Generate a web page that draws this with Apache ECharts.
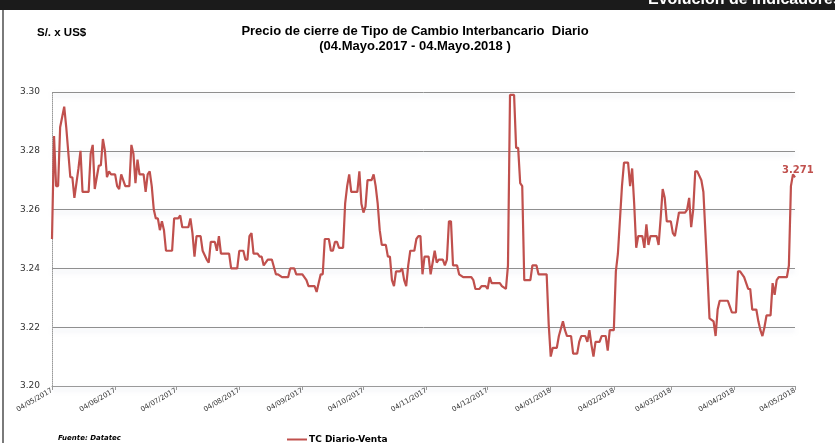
<!DOCTYPE html>
<html>
<head>
<meta charset="utf-8">
<title>Tipo de Cambio Interbancario</title>
<script src="https://cdn.jsdelivr.net/npm/echarts@6.0.0/dist/echarts.min.js"></script>
<style>
  html, body { margin: 0; padding: 0; background: #fff; }
  #chart { width: 835px; height: 443px; }
</style>
</head>
<body>
<div id="chart"></div>
<script>
// etiquetas del eje x (dia 04 de cada mes)
const tickLabels = [
  '04/05/2017', '04/06/2017', '04/07/2017', '04/08/2017', '04/09/2017', '04/10/2017',
  '04/11/2017', '04/12/2017', '04/01/2018', '04/02/2018', '04/03/2018', '04/04/2018', '04/05/2018'
]
const yTicks = [3.20, 3.22, 3.24, 3.26, 3.28, 3.30]

// dias desde el 04/05/2017 y tipo de cambio
const days = [
  0, 1, 2, 3, 4, 6, 7, 9, 10, 11, 13, 14, 15, 18, 19, 20, 21, 23, 24, 25,
  26, 27, 28, 29, 31, 32, 33, 34, 36, 38, 39, 40, 41, 42, 43, 45, 46, 47, 48, 49,
  50, 51, 52, 53, 54, 55, 56, 59, 60, 62, 63, 64, 67, 68, 69, 70, 71, 73, 74, 76,
  77, 78, 80, 81, 82, 83, 87, 88, 91, 92, 94, 95, 96, 97, 98, 99, 101, 102, 103, 104,
  106, 108, 110, 111, 113, 116, 117, 119, 120, 123, 125, 126, 129, 130, 131, 132, 133, 134, 136, 137,
  138, 139, 140, 141, 143, 144, 145, 146, 147, 150, 151, 152, 153, 154, 155, 157, 158, 159, 160, 161,
  162, 164, 165, 166, 167, 168, 169, 171, 172, 173, 174, 175, 176, 178, 179, 180, 181, 182, 183, 185,
  186, 187, 188, 189, 190, 192, 193, 194, 195, 196, 197, 199, 200, 202, 206, 207, 208, 210, 211, 213,
  214, 215, 216, 220, 221, 223, 224, 225, 227, 228, 229, 230, 231, 232, 235, 236, 238, 239, 243, 244,
  245, 246, 248, 249, 251, 252, 253, 255, 256, 258, 259, 260, 262, 263, 264, 265, 266, 267, 269, 270,
  272, 273, 274, 276, 277, 278, 280, 281, 283, 284, 285, 286, 287, 288, 290, 291, 292, 293, 294, 297,
  298, 299, 300, 301, 302, 304, 305, 306, 308, 311, 312, 313, 314, 315, 316, 317, 319, 320, 321, 322,
  323, 325, 326, 327, 328, 332, 333, 334, 336, 337, 338, 340, 342, 343, 344, 346, 347, 348, 349, 350,
  351, 353, 354, 355, 356, 357, 361, 362, 363, 364, 365
]
const values = [
  3.250, 3.285, 3.268, 3.268, 3.288, 3.295, 3.288, 3.271, 3.271, 3.264, 3.274, 3.280, 3.266, 3.266, 3.279, 3.282, 3.267, 3.275, 3.275, 3.284,
  3.280, 3.271, 3.273, 3.272, 3.272, 3.268, 3.267, 3.272, 3.268, 3.268, 3.282, 3.279, 3.269, 3.277, 3.272, 3.272, 3.266, 3.272, 3.273, 3.268,
  3.260, 3.257, 3.257, 3.253, 3.256, 3.253, 3.246, 3.246, 3.257, 3.257, 3.258, 3.254, 3.254, 3.257, 3.252, 3.244, 3.251, 3.251, 3.246, 3.243,
  3.242, 3.249, 3.249, 3.246, 3.251, 3.245, 3.245, 3.240, 3.240, 3.246, 3.246, 3.243, 3.243, 3.251, 3.252, 3.245, 3.245, 3.244, 3.244, 3.241,
  3.243, 3.243, 3.238, 3.238, 3.237, 3.237, 3.240, 3.240, 3.238, 3.238, 3.236, 3.234, 3.234, 3.232, 3.235, 3.238, 3.238, 3.250, 3.250, 3.246,
  3.246, 3.249, 3.249, 3.247, 3.247, 3.262, 3.268, 3.272, 3.266, 3.266, 3.273, 3.262, 3.259, 3.261, 3.270, 3.270, 3.272, 3.268, 3.262, 3.253,
  3.248, 3.248, 3.244, 3.244, 3.236, 3.234, 3.239, 3.239, 3.240, 3.236, 3.234, 3.241, 3.246, 3.246, 3.250, 3.251, 3.251, 3.238, 3.244, 3.244,
  3.238, 3.242, 3.246, 3.242, 3.243, 3.243, 3.241, 3.243, 3.256, 3.256, 3.241, 3.241, 3.238, 3.237, 3.237, 3.236, 3.233, 3.233, 3.234, 3.234,
  3.233, 3.237, 3.235, 3.235, 3.234, 3.233, 3.241, 3.299, 3.299, 3.281, 3.281, 3.269, 3.268, 3.236, 3.236, 3.241, 3.241, 3.238, 3.238, 3.221,
  3.210, 3.213, 3.213, 3.217, 3.222, 3.219, 3.217, 3.217, 3.211, 3.211, 3.215, 3.217, 3.217, 3.215, 3.219, 3.214, 3.210, 3.215, 3.215, 3.217,
  3.217, 3.212, 3.219, 3.219, 3.239, 3.245, 3.268, 3.276, 3.276, 3.268, 3.274, 3.262, 3.247, 3.251, 3.251, 3.247, 3.255, 3.248, 3.251, 3.251,
  3.248, 3.257, 3.267, 3.264, 3.256, 3.256, 3.252, 3.251, 3.259, 3.259, 3.260, 3.264, 3.254, 3.260, 3.273, 3.273, 3.270, 3.266, 3.252, 3.238,
  3.223, 3.222, 3.217, 3.226, 3.229, 3.229, 3.227, 3.225, 3.225, 3.239, 3.239, 3.237, 3.233, 3.233, 3.226, 3.226, 3.222, 3.219, 3.217, 3.220,
  3.224, 3.224, 3.235, 3.231, 3.236, 3.237, 3.237, 3.241, 3.268, 3.272, 3.271
]

// un dia por categoria entre el primer y el ultimo tick
const fechas = []
const start = Date.UTC(2017, 4, 4)
for (let i = 0; i <= 365; i++) {
  const dt = new Date(start + i * 86400000)
  const dd = String(dt.getUTCDate()).padStart(2, '0')
  const mm = String(dt.getUTCMonth() + 1).padStart(2, '0')
  fechas.push(dd + '/' + mm + '/' + dt.getUTCFullYear())
}

const isTick = (idx, val) => tickLabels.indexOf(val) !== -1

const lineColor = '#C0504D'
const seriesData = days.map((d, i) => [d, values[i]])

const chart = echarts.init(document.getElementById('chart'))
const option = {
  backgroundColor: '#fff',
  animation: false,
  title: {
    text: 'Precio de cierre de Tipo de Cambio Interbancario  Diario',
    subtext: '(04.Mayo.2017 - 04.Mayo.2018 )',
    left: 410,
    top: 20,
    textAlign: 'center',
    itemGap: 2,
    textStyle: { fontFamily: 'Liberation Sans', fontWeight: 'bold', fontSize: 13, color: '#000' },
    subtextStyle: { fontFamily: 'Liberation Sans', fontWeight: 'bold', fontSize: 13, color: '#000' }
  },
  legend: {
    left: 282,
    top: 430,
    icon: 'rect',
    itemWidth: 20,
    itemHeight: 2,
    itemGap: 2,
    textStyle: { fontFamily: 'DejaVu Sans', fontWeight: 'bold', fontSize: 9, color: '#000', padding: [0, 0, 0, -3] },
    data: ['TC Diario-Venta']
  },
  grid: { left: 52, right: 40, top: 92, bottom: 57 },
  xAxis: {
    type: 'category',
    data: fechas,
    boundaryGap: false,
    axisLine: { lineStyle: { color: '#9a9a9a', width: 1 } },
    axisTick: { interval: isTick, length: 4, lineStyle: { color: '#9a9a9a' } },
    axisLabel: {
      interval: isTick,
      rotate: 30,
      margin: 4,
      fontFamily: 'DejaVu Sans',
      fontSize: 7,
      color: '#333'
    },
    splitLine: { show: false }
  },
  yAxis: {
    type: 'value',
    min: yTicks[0],
    max: yTicks[yTicks.length - 1],
    interval: 0.02,
    axisLine: { show: true, lineStyle: { color: '#9a9a9a', type: 'dotted' } },
    axisTick: { show: false },
    axisLabel: {
      margin: 12,
      formatter: v => v.toFixed(2),
      fontFamily: 'DejaVu Sans',
      fontSize: 9,
      color: '#333'
    },
    splitLine: {
      lineStyle: {
        color: '#8f8f8f',
        width: 1,
        shadowColor: 'rgba(140,155,190,0.35)',
        shadowBlur: 5,
        shadowOffsetY: 3
      }
    }
  },
  series: [
    {
      name: 'TC Diario-Venta',
      type: 'line',
      data: seriesData,
      symbol: 'none',
      color: lineColor,
      lineStyle: { color: lineColor, width: 2.2 },
      endLabel: {
        show: true,
        formatter: p => p.value[1].toFixed(3),
        offset: [-21, -7],
        color: lineColor,
        fontFamily: 'DejaVu Sans',
        fontWeight: 'bold',
        fontSize: 10
      }
    }
  ],
  graphic: [
    { type: 'rect', left: 0, top: 0, shape: { width: 835, height: 10 }, style: { fill: '#1b1b1b' } },
    { type: 'text', x: 648, y: -8, style: { text: 'Evolución de Indicadores', fill: '#fff', font: 'bold 16px Liberation Sans' } },
    { type: 'line', shape: { x1: 3, y1: 10, x2: 3, y2: 443 }, style: { stroke: '#7a7a7a', lineWidth: 2 } },
    { type: 'text', x: 37, y: 27, style: { text: 'S/. x US$', fill: '#000', font: 'bold 11.5px Liberation Sans' } },
    { type: 'text', x: 58, y: 435, style: { text: 'Fuente: Datatec', fill: '#000', font: 'italic bold 7px DejaVu Sans' } }
  ]
}
chart.setOption(option)
</script>
</body>
</html>
